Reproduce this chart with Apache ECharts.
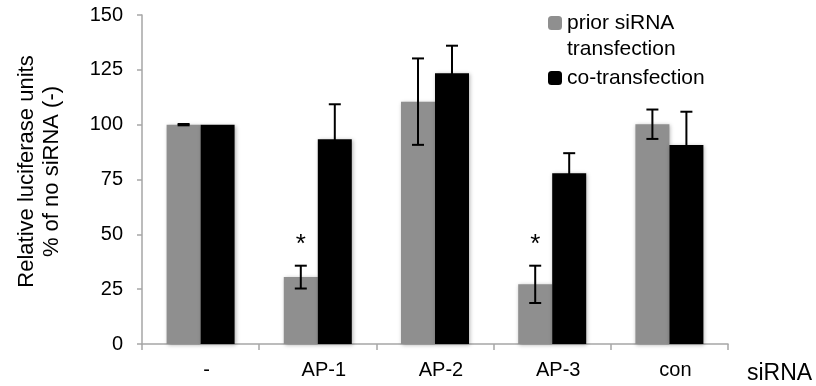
<!DOCTYPE html>
<html>
<head>
<meta charset="utf-8">
<script src="https://cdn.jsdelivr.net/npm/echarts@6/dist/echarts.min.js"></script>
<style>
  html, body { margin: 0; padding: 0; background: #fff; }
  #chart { width: 816px; height: 386px; }
</style>
</head>
<body>
<div id="chart"></div>
<script>
// 数据：估计值
var categories = ['-', 'AP-1', 'AP-2', 'AP-3', 'con'];
var seriesNames = ['prior siRNA transfection', 'co-transfection'];
var priorValues = [100, 30.5, 110.5, 27.2, 100.2];
var priorErrors = [0.3, 5.2, 19.7, 8.5, 6.7];
var coValues = [100, 93.3, 123.4, 77.8, 90.7];
var coErrors = [0, 16, 12.6, 9.2, 15.2];
// 星号：所在类别 + 纵轴高度
var starCats = [1, 3];
var starLevels = [45, 45];
var yTicks = [0, 25, 50, 75, 100, 125, 150];

var FONT = "'Liberation Sans', Arial, sans-serif";
var BAR_W = 34;

function errData(vals, errs) {
    return vals.map(function (v, i) { return [i, v, errs[i]]; });
}

function errRender(offset) {
    return function (params, api) {
        if (!api.value(2)) return null; // 无误差时不画
        var x = api.coord([api.value(0), 0])[0] + offset;
        var hi = api.coord([api.value(0), api.value(1) + api.value(2)])[1];
        var lo = api.coord([api.value(0), api.value(1) - api.value(2)])[1];
        var st = { stroke: '#000', lineWidth: 2 };
        return {
            type: 'group',
            children: [
                { type: 'line', shape: { x1: x, y1: hi, x2: x, y2: lo }, style: st },
                { type: 'line', shape: { x1: x - 6, y1: hi, x2: x + 6, y2: hi }, style: st },
                { type: 'line', shape: { x1: x - 6, y1: lo, x2: x + 6, y2: lo }, style: st }
            ]
        };
    };
}

var option = {
    backgroundColor: '#fff',
    animation: false,
    grid: { left: 142, right: 88, top: 15, bottom: 42, outerBoundsMode: 'none' },
    legend: {
        orient: 'vertical',
        left: 548,
        top: -16,
        padding: 0,
        itemWidth: 14,
        itemHeight: 14,
        itemGap: 3,
        textStyle: { fontSize: 21, lineHeight: 26, color: '#000', fontFamily: FONT },
        data: seriesNames,
        formatter: function (n) {
            // 第一行留空，使图例方块与 "prior siRNA" 对齐
            return n === seriesNames[0] ? ' \nprior siRNA\ntransfection' : n;
        }
    },
    xAxis: {
        type: 'category',
        data: categories,
        name: 'siRNA',
        nameLocation: 'end',
        nameGap: 19,
        nameTextStyle: {
            fontSize: 23, color: '#000', fontFamily: FONT,
            verticalAlign: 'top', padding: [18, 0, 0, 0]
        },
        axisLine: { lineStyle: { color: '#a6a6a6', width: 1.5 } },
        axisTick: { show: true, interval: 0, length: 6, lineStyle: { color: '#a6a6a6', width: 1.5 } },
        axisLabel: {
            fontSize: 20, color: '#000', fontFamily: FONT, margin: 16,
            padding: [0, 0, 0, 12], interval: 0
        }
    },
    yAxis: {
        type: 'value',
        min: yTicks[0],
        max: yTicks[yTicks.length - 1],
        interval: 25,
        name: 'Relative luciferase units\n% of no siRNA (-)',
        nameLocation: 'middle',
        nameGap: 78,
        nameTextStyle: {
            fontSize: 22, lineHeight: 25, color: '#000', fontFamily: FONT,
            padding: [0, 0, 0, 16]
        },
        splitLine: { show: false },
        axisLine: { show: true, lineStyle: { color: '#a6a6a6', width: 1.5 } },
        axisTick: { show: true, length: 5, lineStyle: { color: '#a6a6a6', width: 1.5 } },
        axisLabel: { fontSize: 20, color: '#000', fontFamily: FONT, margin: 19 }
    },
    series: [
        {
            name: seriesNames[0],
            type: 'bar',
            barWidth: BAR_W,
            barGap: '0%',
            data: priorValues,
            itemStyle: {
                color: '#8f8f8f',
                shadowBlur: 4, shadowColor: 'rgba(0,0,0,0.3)', shadowOffsetX: 1, shadowOffsetY: 1
            }
        },
        {
            name: seriesNames[1],
            type: 'bar',
            barWidth: BAR_W,
            barGap: '0%',
            data: coValues,
            itemStyle: {
                color: '#000',
                shadowBlur: 4, shadowColor: 'rgba(0,0,0,0.3)', shadowOffsetX: 1, shadowOffsetY: 1
            }
        },
        {
            type: 'custom',
            z: 5,
            renderItem: errRender(-BAR_W / 2),
            data: errData(priorValues, priorErrors)
        },
        {
            type: 'custom',
            z: 5,
            renderItem: errRender(BAR_W / 2),
            data: errData(coValues, coErrors)
        },
        {
            type: 'custom',
            z: 6,
            renderItem: function (params, api) {
                var p = api.coord([api.value(0), api.value(1)]);
                return {
                    type: 'text',
                    x: p[0] - BAR_W / 2,
                    y: p[1],
                    style: {
                        text: '*', fontSize: 26, fontFamily: FONT, fill: '#000',
                        align: 'center', verticalAlign: 'middle'
                    }
                };
            },
            data: starCats.map(function (c, i) { return [c, starLevels[i]]; })
        }
    ]
};

var chart = echarts.init(document.getElementById('chart'));
chart.setOption(option);
</script>
</body>
</html>
